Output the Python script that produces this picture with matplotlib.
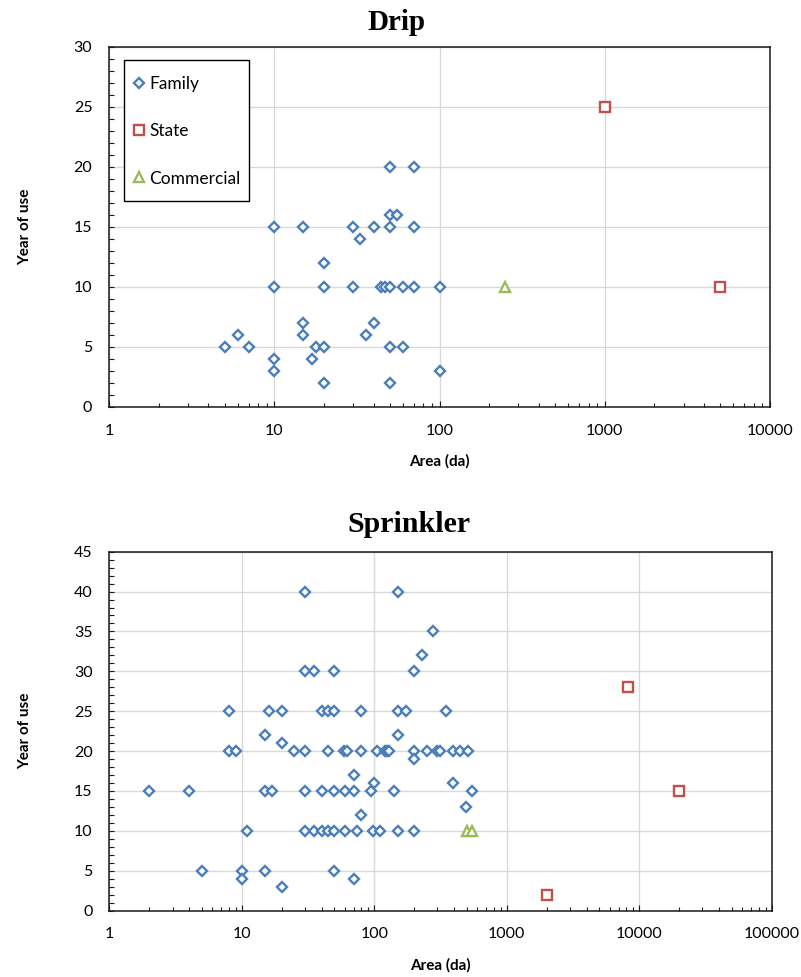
import matplotlib
matplotlib.use("Agg")
import matplotlib.pyplot as plt
from matplotlib.patches import Rectangle
from matplotlib.ticker import FixedLocator, MultipleLocator, LogLocator, NullFormatter

# ---------------- data ----------------
drip_family_x = [50, 70,
                 50, 55,
                 10, 15, 30, 40, 50, 70,
                 33,
                 20,
                 10, 20, 30, 44, 47, 50, 60, 70, 100,
                 15, 40,
                 6, 15, 36,
                 5, 7, 18, 20, 50, 60,
                 10, 17,
                 10, 100,
                 20, 50]
drip_family_y = [20, 20,
                 16, 16,
                 15, 15, 15, 15, 15, 15,
                 14,
                 12,
                 10, 10, 10, 10, 10, 10, 10, 10, 10,
                 7, 7,
                 6, 6, 6,
                 5, 5, 5, 5, 5, 5,
                 4, 4,
                 3, 3,
                 2, 2]
drip_state_x = [1000, 5000]
drip_state_y = [25, 10]
drip_comm_x = [250]
drip_comm_y = [10]

spr_family_x = [30, 150,
                280,
                230,
                30, 35, 50, 200,
                8, 16, 20, 40, 45, 50, 80, 150, 175, 350,
                15, 150,
                20,
                8, 9, 25, 30, 45, 59, 62, 80, 104, 120, 125, 129, 200, 250, 300, 312, 390, 440, 510,
                200,
                70,
                100, 390,
                2, 4, 15, 17, 30, 40, 50, 60, 70, 94, 140, 550,
                490,
                80,
                11, 30, 35, 40, 45, 50, 60, 74, 98, 110, 150, 200,
                5, 10, 15, 50,
                10, 70,
                20]
spr_family_y = [40, 40,
                35,
                32,
                30, 30, 30, 30,
                25, 25, 25, 25, 25, 25, 25, 25, 25, 25,
                22, 22,
                21,
                20, 20, 20, 20, 20, 20, 20, 20, 20, 20, 20, 20, 20, 20, 20, 20, 20, 20, 20,
                19,
                17,
                16, 16,
                15, 15, 15, 15, 15, 15, 15, 15, 15, 15, 15, 15,
                13,
                12,
                10, 10, 10, 10, 10, 10, 10, 10, 10, 10, 10, 10,
                5, 5, 5, 5,
                4, 4,
                3]
spr_state_x = [8300, 20000, 2000]
spr_state_y = [28, 15, 2]
spr_comm_x = [500, 550]
spr_comm_y = [10, 10]

series_names = ["Family", "State", "Commercial"]
drip_xticks = [1, 10, 100, 1000, 10000]
drip_xticklabels = ["1", "10", "100", "1000", "10000"]
drip_yticks = [0, 5, 10, 15, 20, 25, 30]
spr_xticks = [1, 10, 100, 1000, 10000, 100000]
spr_xticklabels = ["1", "10", "100", "1000", "10000", "100000"]
spr_yticks = [0, 5, 10, 15, 20, 25, 30, 35, 40, 45]

# ---------------- style ----------------
BLUE = "#4a7ebb"
RED = "#c0504d"
GREEN = "#9bbb59"
GRID = "#d9d9d9"
SANS = ["Lato", "DejaVu Sans"]
SERIF = ["Liberation Serif", "DejaVu Serif"]

plt.rcParams["font.family"] = SANS

fig = plt.figure(figsize=(8.01, 9.77), dpi=100)
W, H = 801, 977


def px_axes(left, top, right, bottom):
    return fig.add_axes([left / W, 1 - bottom / H, (right - left) / W, (bottom - top) / H])


ax1 = px_axes(109, 47, 770, 407)
ax2 = px_axes(109.3, 551.7, 771.7, 910.5)


def style(ax, xticks, xlabels, yticks, xmax, ymax):
    ax.set_xscale("log")
    ax.set_xlim(1, xmax)
    ax.set_ylim(0, ymax)
    ax.xaxis.set_major_locator(FixedLocator(xticks))
    ax.set_xticklabels(xlabels)
    ax.xaxis.set_minor_locator(LogLocator(base=10, subs=range(2, 10), numticks=20))
    ax.xaxis.set_minor_formatter(NullFormatter())
    ax.yaxis.set_major_locator(FixedLocator(yticks))
    ax.set_yticklabels([str(v) for v in yticks])
    ax.yaxis.set_minor_locator(MultipleLocator(1))
    ax.grid(True, which="major", color=GRID, linewidth=1.0)
    ax.set_axisbelow(True)
    for s in ax.spines.values():
        s.set_color("#1a1a1a")
        s.set_linewidth(1.1)
    ax.tick_params(which="both", direction="in", color="#1a1a1a", width=0.8,
                   labelsize=11.5, labelcolor="black")
    ax.tick_params(axis="x", which="major", length=4, pad=12)
    ax.tick_params(axis="x", which="minor", length=3)
    ax.tick_params(axis="y", which="both", length=3.5, pad=12)
    ax.set_xlabel("Area (da)", fontsize=11, fontweight="bold", labelpad=12)
    ax.set_ylabel("Year of use", fontsize=11, fontweight="bold", labelpad=30)


mk = dict(linestyle="none", markerfacecolor="white", markeredgewidth=1.7)

ax1.plot(drip_family_x, drip_family_y, marker="D", markersize=5.5, color=BLUE,
         markeredgecolor=BLUE, label=series_names[0], **mk)
ax1.plot(drip_state_x, drip_state_y, marker="s", markersize=6.5, color=RED,
         markeredgecolor=RED, label=series_names[1], **mk)
ax1.plot(drip_comm_x, drip_comm_y, marker="^", markersize=7, color=GREEN,
         markeredgecolor=GREEN, label=series_names[2], **mk)
style(ax1, drip_xticks, drip_xticklabels, drip_yticks, 10000, 30)

ax2.plot(spr_family_x, spr_family_y, marker="D", markersize=5.5, color=BLUE,
         markeredgecolor=BLUE, **mk)
ax2.plot(spr_state_x, spr_state_y, marker="s", markersize=6.5, color=RED,
         markeredgecolor=RED, **mk)
ax2.plot(spr_comm_x, spr_comm_y, marker="^", markersize=7, color=GREEN,
         markeredgecolor=GREEN, **mk)
style(ax2, spr_xticks, spr_xticklabels, spr_yticks, 100000, 45)

# legend (frameless) plus a separately drawn box, positioned in figure pixels
leg = ax1.legend(loc="upper left", bbox_to_anchor=(134.5 / W, 1 - 76 / H),
                 bbox_transform=fig.transFigure,
                 frameon=False, fontsize=12.5, handlelength=0.5, handletextpad=0.35,
                 labelspacing=1.8, borderpad=0, borderaxespad=0)
frame = Rectangle((124 / W, 1 - 201 / H), (249 - 124) / W, (201 - 60) / H,
                  transform=fig.transFigure, facecolor="white", edgecolor="black",
                  linewidth=1.0, zorder=4)
ax1.add_artist(frame)
frame.set_clip_on(False)
leg.set_zorder(5)

fig.text(396 / W, 1 - 30 / H, "Drip", family=SERIF, fontweight="bold", fontsize=21,
         ha="center", va="baseline")
fig.text(409 / W, 1 - 532 / H, "Sprinkler", family=SERIF, fontweight="bold", fontsize=21.5,
         ha="center", va="baseline")

fig.savefig("out.png", dpi=100)
